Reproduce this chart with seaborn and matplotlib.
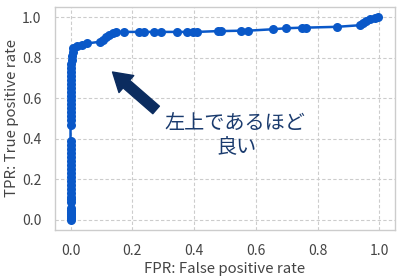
import matplotlib
matplotlib.use("Agg")
import matplotlib.pyplot as plt
import seaborn as sns
import pandas as pd

fpr = [0.0]*39 + [0.003, 0.005, 0.006, 0.008, 0.009,
       0.02, 0.036, 0.052, 0.094, 0.105, 0.116, 0.126, 0.136, 0.148, 0.174,
       0.222, 0.238, 0.270, 0.292, 0.345, 0.377, 0.398, 0.409, 0.478, 0.488,
       0.553, 0.574, 0.654, 0.697, 0.75, 0.761, 0.862, 0.937, 0.948, 0.958,
       0.969, 0.985, 0.996]
tpr = [0.0, 0.01, 0.02, 0.03, 0.04, 0.05, 0.06, 0.09, 0.10, 0.11, 0.13, 0.15,
       0.17, 0.19, 0.21, 0.23, 0.25, 0.27, 0.29, 0.31, 0.33, 0.35, 0.37, 0.39,
       0.47, 0.49, 0.51, 0.53, 0.55, 0.57, 0.59, 0.61, 0.63, 0.65, 0.67, 0.69,
       0.71, 0.73, 0.75, 0.77, 0.79, 0.81, 0.83, 0.85,
       0.857, 0.862, 0.87, 0.878, 0.887, 0.903, 0.911, 0.922, 0.927, 0.927,
       0.927, 0.927, 0.927, 0.927, 0.927, 0.927, 0.927, 0.927, 0.931, 0.931,
       0.933, 0.933, 0.94, 0.945, 0.948, 0.948, 0.952, 0.96, 0.969, 0.98,
       0.99, 0.997, 1.0]
xticks = [0.0, 0.2, 0.4, 0.6, 0.8, 1.0]
yticks = [0.0, 0.2, 0.4, 0.6, 0.8, 1.0]
xlabel = "FPR: False positive rate"
ylabel = "TPR: True positive rate"
note_line1 = "左上であるほど"
note_line2 = "良い"

sns.set_theme(style="whitegrid")
plt.rcParams['font.family'] = ['Noto Sans CJK JP', 'DejaVu Sans']

df = pd.DataFrame({"fpr": fpr, "tpr": tpr})

fig = plt.figure(figsize=(4.05, 2.79), dpi=100)
ax = fig.add_axes([0.136, 0.176, 0.839, 0.799])
sns.lineplot(data=df, x="fpr", y="tpr", sort=False, estimator=None,
             marker="o", markersize=6.5, markeredgewidth=0,
             color="#0a58c8", linewidth=1.8, ax=ax)

ax.set_xlim(-0.05, 1.05)
ax.set_ylim(-0.05, 1.05)
ax.set_xticks(xticks)
ax.set_yticks(yticks)
ax.set_xticklabels([f"{t:.1f}" for t in xticks])
ax.set_yticklabels([f"{t:.1f}" for t in yticks])
ax.tick_params(labelsize=10, colors="#444444", pad=4)
ax.set_xlabel(xlabel, fontsize=10.8, color="#444444", labelpad=3)
ax.set_ylabel(ylabel, fontsize=10.8, color="#444444", labelpad=2)
ax.grid(True, linestyle=(0, (3, 2)), color="#cccccc", linewidth=0.8)
for s in ax.spines.values():
    s.set_color("#cccccc")
    s.set_linewidth(1.0)

ax.annotate("", xy=(0.136, 0.729), xytext=(0.277, 0.542),
            arrowprops=dict(arrowstyle="simple,head_length=1.1,head_width=1.35,tail_width=0.6",
                            mutation_scale=12, color="#0b2c5f", shrinkA=0, shrinkB=0))
ax.text(0.533, 0.473, note_line1, ha="center", va="center", fontsize=14.5, color="#1a3b6e")
ax.text(0.536, 0.355, note_line2, ha="center", va="center", fontsize=14.5, color="#1a3b6e")

fig.savefig("out.png", dpi=100)
